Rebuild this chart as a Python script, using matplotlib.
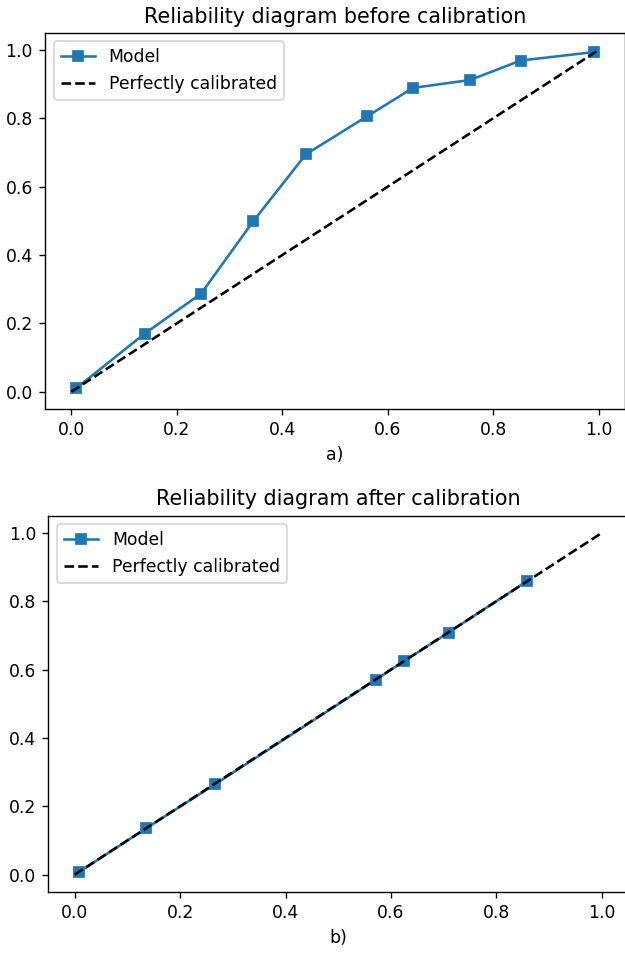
import matplotlib
matplotlib.use("Agg")
import matplotlib.pyplot as plt

# reliability data
prob_pred_before = [0.009, 0.139, 0.246, 0.345, 0.445, 0.561, 0.648, 0.756, 0.852, 0.992]
prob_true_before = [0.010, 0.170, 0.287, 0.499, 0.695, 0.806, 0.889, 0.912, 0.969, 0.994]

prob_pred_after = [0.009, 0.136, 0.266, 0.571, 0.624, 0.709, 0.857]
prob_true_after = [0.008, 0.136, 0.264, 0.570, 0.624, 0.708, 0.858]

perfect = [0, 1]

titles = ["Reliability diagram before calibration", "Reliability diagram after calibration"]
sub_labels = ["a)", "b)"]

dpi = 124
fig = plt.figure(figsize=(625 / dpi, 964 / dpi), dpi=dpi)
ax1 = fig.add_axes([0.072, 0.5759, 0.928, 0.390])
ax2 = fig.add_axes([0.0773, 0.075, 0.928, 0.390])

data = [(prob_pred_before, prob_true_before), (prob_pred_after, prob_true_after)]
for ax, (px, py), title, lab in zip([ax1, ax2], data, titles, sub_labels):
    ax.plot(px, py, "s-", label="Model")
    ax.plot(perfect, perfect, "k--", label="Perfectly calibrated")
    ax.set_title(title)
    ax.set_xlabel(lab)
    ax.legend(loc="upper left")

fig.savefig("out.png", dpi=dpi)
